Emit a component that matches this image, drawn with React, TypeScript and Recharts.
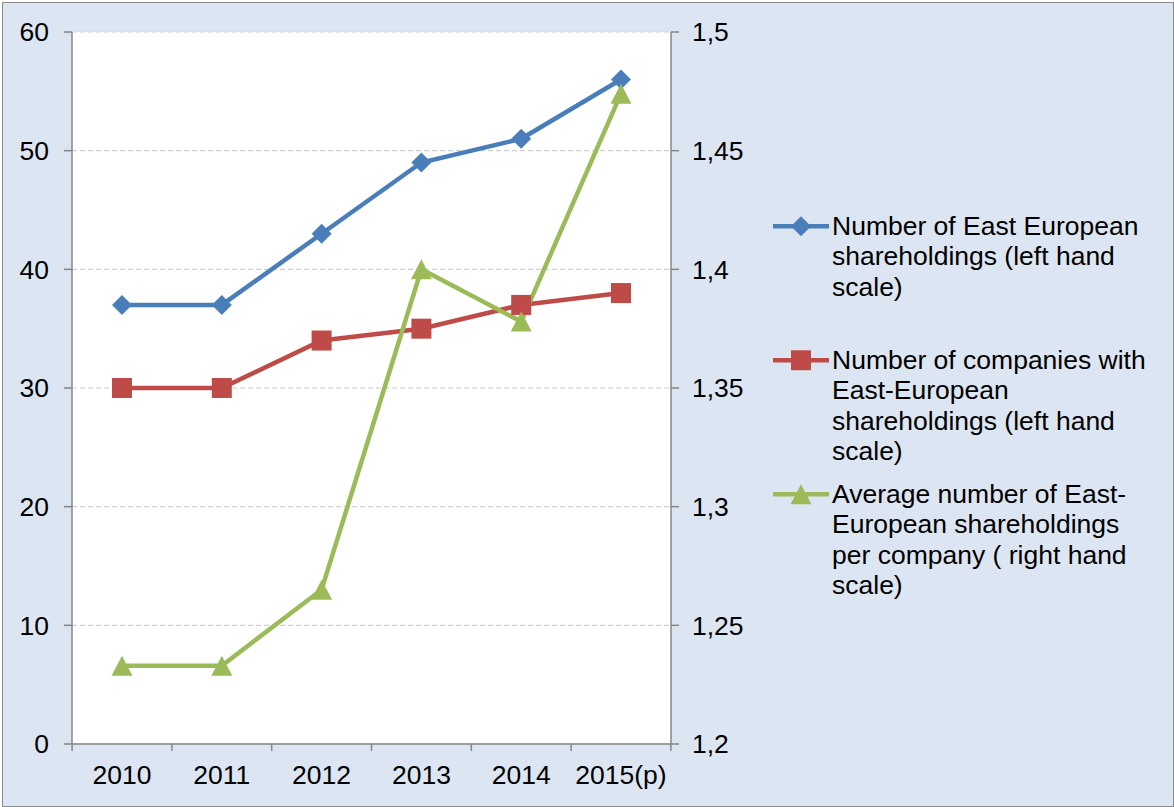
import React from 'react';
import { LineChart, Line, XAxis, YAxis, CartesianGrid, Legend } from 'recharts';

const categories = ['2010', '2011', '2012', '2013', '2014', '2015(p)'];
const eastEuropeanShareholdings = [37, 37, 43, 49, 51, 56];
const companiesWithShareholdings = [30, 30, 34, 35, 37, 38];
const averagePerCompany = [1.233, 1.233, 1.265, 1.4, 1.378, 1.474];
const leftTicks = [0, 10, 20, 30, 40, 50, 60];
const rightTicks = [1.2, 1.25, 1.3, 1.35, 1.4, 1.45, 1.5];
const seriesNames = [
  'Number of East European shareholdings (left hand scale)',
  'Number of companies with East-European shareholdings (left hand scale)',
  'Average number of East-European shareholdings per company ( right hand scale)',
];

const data = categories.map((c, i) => ({
  category: c,
  holdings: eastEuropeanShareholdings[i],
  companies: companiesWithShareholdings[i],
  average: averagePerCompany[i],
}));

const FONT = "'Liberation Sans', Arial, sans-serif";
const FS = 26.5;
const AXIS = '#868686';
const BLUE = '#4a7ebb';
const RED = '#be4b48';
const GREEN = '#9bbb59';
const HALF_STEP = 49.9;

const Diamond = (cx: number, cy: number, color: string, key?: any) => (
  <path key={key} d={`M${cx},${cy - 10} L${cx + 10},${cy} L${cx},${cy + 10} L${cx - 10},${cy} Z`} fill={color} />
);
const Square = (cx: number, cy: number, color: string, key?: any) => (
  <rect key={key} x={cx - 10} y={cy - 10} width={20} height={20} fill={color} />
);
const Triangle = (cx: number, cy: number, color: string, key?: any) => (
  <path key={key} d={`M${cx},${cy - 10} L${cx + 10.5},${cy + 10} L${cx - 10.5},${cy + 10} Z`} fill={color} />
);

const markers = [
  { color: BLUE, shape: Diamond },
  { color: RED, shape: Square },
  { color: GREEN, shape: Triangle },
];

const XTick = (props: any) => {
  const { x, y, payload, index } = props;
  return (
    <g>
      <line x1={x - HALF_STEP} x2={x - HALF_STEP} y1={y} y2={y + 7} stroke={AXIS} strokeWidth={1.5} />
      {index === categories.length - 1 && (
        <line x1={x + HALF_STEP} x2={x + HALF_STEP} y1={y} y2={y + 7} stroke={AXIS} strokeWidth={1.5} />
      )}
      <text x={x} y={y + 40} textAnchor="middle" fontSize={FS} fill="#000" fontFamily={FONT}>
        {payload.value}
      </text>
    </g>
  );
};

const renderLegend = () => (
  <div style={{ fontFamily: FONT, fontSize: FS, lineHeight: '30.5px', color: '#000' }}>
    {seriesNames.map((name, i) => (
      <div key={name} style={{ display: 'flex', alignItems: 'flex-start', height: i < 2 ? 134 : 'auto' }}>
        <svg width={56} height={30.5} style={{ flex: 'none' }}>
          <line x1={0} x2={56} y1={15.25} y2={15.25} stroke={markers[i].color} strokeWidth={4.5} strokeLinecap="round" />
          {markers[i].shape(28, 15.25, markers[i].color)}
        </svg>
        <div style={{ width: 328, marginLeft: 3 }}>{name}</div>
      </div>
    ))}
  </div>
);

export default function App() {
  return (
    <div
      style={{
        position: 'absolute',
        left: 2,
        top: 2,
        width: 1172,
        height: 805,
        boxSizing: 'border-box',
        border: '1px solid #8a8a8a',
        background: '#dce6f2',
      }}
    >
      <LineChart
        width={1170}
        height={803}
        data={data}
        margin={{ top: 29, right: 442, bottom: 22, left: 0 }}
      >
        <CartesianGrid
          yAxisId="left"
          vertical={false}
          fill="#ffffff"
          stroke="#cfcfcf"
          strokeDasharray="5 3"
          strokeWidth={1.2}
        />
        <XAxis
          dataKey="category"
          padding={{ left: 50, right: 50 }}
          interval={0}
          height={40}
          tickSize={0}
          tickMargin={0}
          tickLine={false}
          axisLine={{ stroke: AXIS, strokeWidth: 1.5 }}
          tick={<XTick />}
        />
        <YAxis
          yAxisId="left"
          width={69}
          domain={[0, 60]}
          ticks={leftTicks}
          interval={0}
          tickSize={8}
          tickMargin={15}
          axisLine={{ stroke: AXIS, strokeWidth: 1.5 }}
          tickLine={{ stroke: AXIS, strokeWidth: 1.5 }}
          tick={{ fontSize: FS, fill: '#000', fontFamily: FONT }}
        />
        <YAxis
          yAxisId="right"
          orientation="right"
          width={60}
          domain={[1.2, 1.5]}
          ticks={rightTicks}
          interval={0}
          tickSize={8}
          tickMargin={13}
          axisLine={{ stroke: AXIS, strokeWidth: 1.5 }}
          tickLine={{ stroke: AXIS, strokeWidth: 1.5 }}
          tickFormatter={(v: number) => String(v).replace('.', ',')}
          tick={{ fontSize: FS, fill: '#000', fontFamily: FONT, textAnchor: 'start' }}
        />
        <Legend
          layout="vertical"
          align="center"
          verticalAlign="middle"
          content={renderLegend}
          wrapperStyle={{ left: 770, top: 207.6, width: 400, height: 420 }}
        />
        <Line
          yAxisId="left"
          dataKey="holdings"
          name={seriesNames[0]}
          stroke={BLUE}
          strokeWidth={4.5}
          isAnimationActive={false}
          dot={(p: any) => Diamond(p.cx, p.cy, BLUE, p.index)}
          activeDot={false}
        />
        <Line
          yAxisId="left"
          dataKey="companies"
          name={seriesNames[1]}
          stroke={RED}
          strokeWidth={4.5}
          isAnimationActive={false}
          dot={(p: any) => Square(p.cx, p.cy, RED, p.index)}
          activeDot={false}
        />
        <Line
          yAxisId="right"
          dataKey="average"
          name={seriesNames[2]}
          stroke={GREEN}
          strokeWidth={4.5}
          isAnimationActive={false}
          dot={(p: any) => Triangle(p.cx, p.cy, GREEN, p.index)}
          activeDot={false}
        />
      </LineChart>
    </div>
  );
}
